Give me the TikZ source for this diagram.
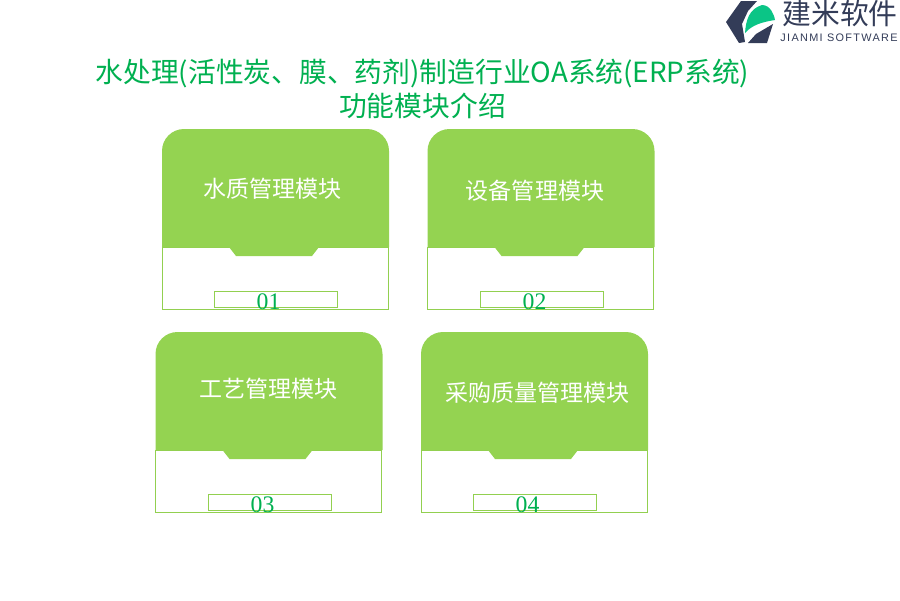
\documentclass[tikz,border=0pt]{standalone}
\usepackage{fontspec}
\setmainfont{Liberation Serif}
\newfontfamily\cjkfont{Noto Sans CJK SC}
\newfontfamily\logofont[LetterSpace=12]{Liberation Sans}

\definecolor{cardgreen}{HTML}{94D351}
\definecolor{linegreen}{HTML}{92D050}
\definecolor{textgreen}{HTML}{00B050}
\definecolor{logodark}{HTML}{333C58}
\definecolor{logogreen}{HTML}{0BC586}

\tikzset{
  title/.style={text=textgreen,align=center,inner sep=0pt,font=\fontsize{15.8}{19.2}\selectfont\cjkfont},
  cardtext/.style={text=white,inner sep=0pt,font=\fontsize{13.1}{15}\selectfont\cjkfont},
  cardnum/.style={text=textgreen,inner sep=0pt,font=\fontsize{13.5}{14}\selectfont},
  pics/modulecard/.style={code={
    \draw[linegreen,line width=0.4pt] (0,118) rectangle (226,180);
    \draw[linegreen,line width=0.4pt] (52.7,162.5) rectangle (175.5,178);
    \fill[cardgreen] (0,118) -- (0,22) arc[start angle=180,end angle=270,radius=22] -- (205,0)
      arc[start angle=270,end angle=360,radius=22] -- (227,118) -- (157,118) -- (150,127)
      -- (74,127) -- (67,118) -- cycle;
  }}
}

\begin{document}
\begin{tikzpicture}[x=0.02cm,y=-0.02cm]

  \useasboundingbox (0,0) rectangle (900,600);

  % logo
  \fill[logodark] (726,22) -- (741,1) -- (757,1) -- (748,11) -- (742,24) -- (745,42) -- (739,43) -- cycle;
  \fill[logodark] (773,24) -- (767,43) -- (748,43) -- (756,34) -- cycle;
  \fill[logogreen] (745,33) .. controls (746,20) and (749,9) .. (762,5)
    .. controls (770,5) and (774,14) .. (775,20) .. controls (762,22) and (752,25) .. (745,33) -- cycle;
  \node[inner sep=0pt,text=logodark,font=\fontsize{16.4}{18}\selectfont\cjkfont] (logoname) at (840,14) {建米软件};
  \node[inner sep=0pt,text=logodark,font=\fontsize{6.2}{8}\selectfont\logofont] (logosub) at (839,38) {JIANMI SOFTWARE};

  \node[title] (head) at (422.5,89) {水处理(活性炭、膜、药剂)制造行业OA系统(ERP系统)\\功能模块介绍};

  % the four cards
  \pic at (162,129) {modulecard};
  \pic at (427.5,129) {modulecard};
  \pic at (155.5,332) {modulecard};
  \pic at (421,332) {modulecard};

  \begin{scope}[every node/.style={cardtext}]
    \node (water) at (272.5,189) {水质管理模块};
    \node (equip) at (535,191) {设备管理模块};
    \node (craft) at (268.5,389) {工艺管理模块};
    \node (buy) at (537.5,393) {采购质量管理模块};
  \end{scope}

  \begin{scope}[every node/.style={cardnum}]
    \node (n1) at (268.5,301.5) {01};
    \node (n2) at (534.5,301.5) {02};
    \node (n3) at (262.5,504.5) {03};
    \node (n4) at (527.5,504.5) {04};
  \end{scope}

\end{tikzpicture}
\end{document}
